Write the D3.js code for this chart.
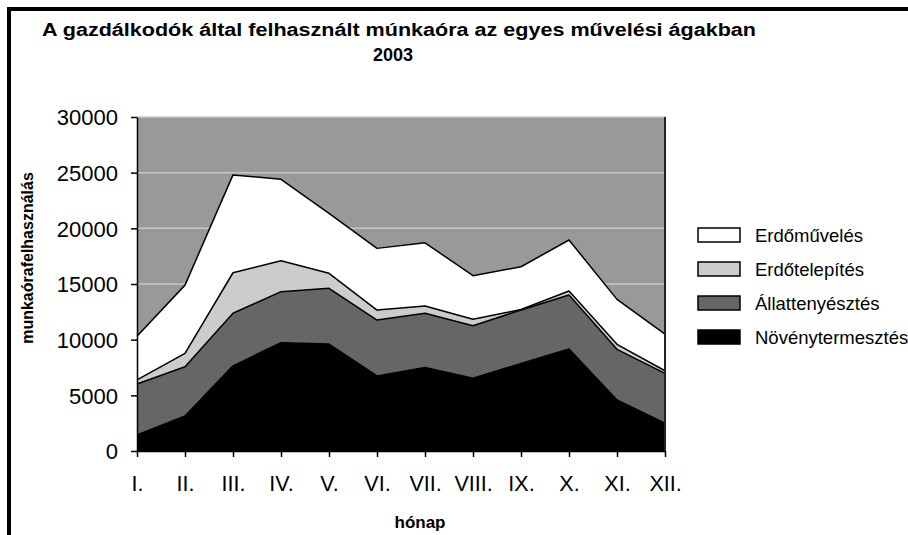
<!DOCTYPE html>
<html lang="hu">
	<head>
		<meta charset="utf-8">
		<title>Munkaóra felhasználás 2003</title>
		<script type="text/javascript" src="https://cdn.jsdelivr.net/npm/d3@7"></script>
		<style type="text/css">
			body { margin: 0; background: #fff; }
			text { font-family: "Liberation Sans", Arial, sans-serif; fill: #000; }
		</style>
	</head>
	<body>
		<script type="text/javascript">

			//Width and height
			var w = 908;
			var h = 535;

			//Data
			var months = ["I.", "II.", "III.", "IV.", "V.", "VI.", "VII.", "VIII.", "IX.", "X.", "XI.", "XII."];
			var novenytermesztes = [1450, 3150, 7650, 9730, 9610, 6740, 7510, 6530, 7870, 9160, 4580, 2490];
			var allattenyesztes  = [4570, 4420, 4720, 4580, 5000, 5020, 4860, 4720, 4790, 4850, 4550, 4480];
			var erdotelepites    = [360, 1200, 3640, 2780, 1350, 900, 650, 580, 50, 360, 450, 240];
			var erdomuveles      = [3920, 6130, 8790, 7310, 5390, 5540, 5680, 3920, 3840, 4580, 4040, 3290];
			var yTicks = [0, 5000, 10000, 15000, 20000, 25000, 30000];

			var seriesNames = ["Növénytermesztés", "Állattenyésztés", "Erdőtelepítés", "Erdőművelés"];
			var seriesColors = ["#000000", "#666666", "#cccccc", "#ffffff"];
			var seriesValues = [novenytermesztes, allattenyesztes, erdotelepites, erdomuveles];

			//build rows for d3.stack
			var table = months.map(function(m, i) {
				var row = { month: m };
				seriesNames.forEach(function(s, j) { row[s] = seriesValues[j][i]; });
				return row;
			});

			var stacked = d3.stack().keys(seriesNames)(table);

			//plot area
			var pLeft = 137, pRight = 665, pTop = 117, pBottom = 451;

			var x = d3.scalePoint().domain(months).range([pLeft, pRight]);
			var y = d3.scaleLinear().domain([0, 30000]).range([pBottom, pTop]);

			var svg = d3.select("body")
						.append("svg")
						.attr("width", w)
						.attr("height", h);

			//frame
			svg.append("rect")
				.attr("x", 9).attr("y", 9)
				.attr("width", 1000).attr("height", 1000)
				.style("fill", "none")
				.style("stroke", "#000")
				.style("stroke-width", 4);

			//Title (glyphs are a bit wide in the original, stretch to fit)
			svg.append("text")
				.attr("x", 42).attr("y", 36)
				.attr("textLength", 714)
				.attr("lengthAdjust", "spacingAndGlyphs")
				.style("font-weight", "bold")
				.style("font-size", "18px")
				.text("A gazdálkodók által felhasznált múnkaóra az egyes művelési ágakban");
			svg.append("text")
				.attr("x", 393).attr("y", 61)
				.attr("text-anchor", "middle")
				.style("font-weight", "bold")
				.style("font-size", "18px")
				.text("2003");

			//plot background
			svg.append("rect")
				.attr("x", pLeft).attr("y", pTop)
				.attr("width", pRight - pLeft).attr("height", pBottom - pTop)
				.style("fill", "#999999");

			//gridlines
			svg.selectAll("line.grid")
				.data(yTicks.slice(1))
				.enter()
				.append("line")
				.attr("class", "grid")
				.attr("x1", pLeft).attr("x2", pRight)
				.attr("y1", function(d) { return y(d); })
				.attr("y2", function(d) { return y(d); })
				.style("stroke", "#c8c8c8")
				.style("stroke-width", 1.5);

			//areas
			var area = d3.area()
				.x(function(d) { return x(d.data.month); })
				.y0(function(d) { return y(d[0]); })
				.y1(function(d) { return y(d[1]); });

			var topLine = d3.line()
				.x(function(d) { return x(d.data.month); })
				.y(function(d) { return y(d[1]); });

			svg.selectAll("path.area")
				.data(stacked)
				.enter()
				.append("path")
				.attr("class", "area")
				.attr("d", area)
				.style("fill", function(d, i) { return seriesColors[i]; });

			svg.selectAll("path.edge")
				.data(stacked)
				.enter()
				.append("path")
				.attr("class", "edge")
				.attr("d", topLine)
				.style("fill", "none")
				.style("stroke", "#000")
				.style("stroke-width", 1.5)
				.style("stroke-linejoin", "round");

			//right plot border
			svg.append("line")
				.attr("x1", pRight).attr("x2", pRight)
				.attr("y1", pTop).attr("y2", pBottom)
				.style("stroke", "#222")
				.style("stroke-width", 2);

			//Axes
			var yAxis = d3.axisLeft(y).tickValues(yTicks).tickFormat(d3.format("d"))
				.tickSize(6).tickSizeOuter(0).tickPadding(13);
			var gy = svg.append("g")
				.attr("transform", "translate(" + pLeft + ",0)")
				.call(yAxis);
			gy.selectAll("text").style("font-size", "22px").attr("dy", "0.36em");

			var xAxis = d3.axisBottom(x).tickSize(6).tickSizeOuter(0).tickPadding(19);
			var gx = svg.append("g")
				.attr("transform", "translate(0," + pBottom + ")")
				.call(xAxis);
			gx.selectAll("text").style("font-size", "21.5px");

			svg.selectAll(".domain, .tick line").style("stroke", "#000").style("stroke-width", 1.5);

			//axis titles
			svg.append("text")
				.attr("transform", "translate(33,258) rotate(-90)")
				.attr("text-anchor", "middle")
				.style("font-weight", "bold")
				.style("font-size", "16px")
				.text("munkaórafelhasználás");

			svg.append("text")
				.attr("x", 420).attr("y", 528)
				.attr("text-anchor", "middle")
				.style("font-weight", "bold")
				.style("font-size", "17px")
				.text("hónap");

			//Legend (top series first)
			var legend = svg.selectAll("g.legend")
				.data(seriesNames.slice().reverse())
				.enter()
				.append("g")
				.attr("class", "legend")
				.attr("transform", function(d, i) { return "translate(698," + (228 + i * 34) + ")"; });

			legend.append("rect")
				.attr("width", 42).attr("height", 14)
				.style("fill", function(d, i) { return seriesColors[seriesColors.length - 1 - i]; })
				.style("stroke", "#000")
				.style("stroke-width", 1.5);

			legend.append("text")
				.attr("x", 57).attr("y", 14)
				.style("font-size", "18.5px")
				.text(function(d) { return d; });

		</script>
	</body>
</html>
